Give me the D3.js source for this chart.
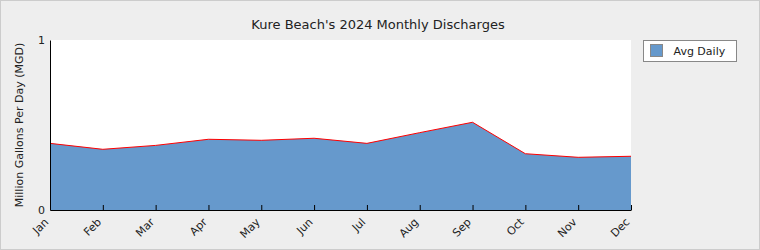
<!DOCTYPE html>
<html>
<head>
<meta charset="utf-8">
<script src="https://cdn.jsdelivr.net/npm/d3@7"></script>
<style>
body { margin: 0; background: #eeeeee; }
svg { display: block; font-family: "DejaVu Sans", sans-serif; }
</style>
</head>
<body>
<script>
// data
var months = ["Jan", "Feb", "Mar", "Apr", "May", "Jun", "Jul", "Aug", "Sep", "Oct", "Nov", "Dec"];
var avgDaily = [0.392, 0.357, 0.380, 0.416, 0.410, 0.422, 0.392, 0.455, 0.516, 0.331, 0.310, 0.316];
var yTicks = [0, 1];

var W = 760, H = 250;
var margin = {top: 40, right: 129, bottom: 40, left: 50};
var width = W - margin.left - margin.right;
var height = H - margin.top - margin.bottom;

var svg = d3.select("body").append("svg")
	.attr("width", W)
	.attr("height", H);

svg.append("rect")
	.attr("x", 0.5).attr("y", 0.5)
	.attr("width", W - 1).attr("height", H - 1)
	.attr("fill", "#eeeeee")
	.attr("stroke", "#cccccc");

svg.append("text")
	.attr("x", 378).attr("y", 29)
	.attr("text-anchor", "middle")
	.attr("font-size", "13px")
	.attr("fill", "#222")
	.text("Kure Beach's 2024 Monthly Discharges");

var g = svg.append("g")
	.attr("transform", "translate(" + margin.left + "," + margin.top + ")");

// scales
var xScale = d3.scalePoint().domain(months).range([0, width]);
var yScale = d3.scaleLinear().domain([0, 1]).range([height, 0]);

g.append("rect")
	.attr("width", width).attr("height", height)
	.attr("fill", "#ffffff");

var area = d3.area()
	.x(function(d, i) { return xScale(months[i]); })
	.y0(height)
	.y1(function(d) { return yScale(d); });

var line = d3.line()
	.x(function(d, i) { return xScale(months[i]); })
	.y(function(d) { return yScale(d); });

g.append("path")
	.datum(avgDaily)
	.attr("d", area)
	.attr("fill", "#6699cc");

g.append("path")
	.datum(avgDaily)
	.attr("d", line)
	.attr("fill", "none")
	.attr("stroke", "#ff0000")
	.attr("stroke-width", 1);

// axes
var xAxis = d3.axisBottom(xScale).tickSizeInner(-5).tickSizeOuter(0);
var xAxisGroup = g.append("g")
	.attr("transform", "translate(0," + height + ")")
	.call(xAxis);
xAxisGroup.select(".domain").attr("stroke", "#000");
xAxisGroup.selectAll(".tick line").attr("stroke", "#000");
xAxisGroup.selectAll("text")
	.attr("font-size", "11px")
	.attr("font-family", "DejaVu Sans, sans-serif")
	.attr("fill", "#222")
	.attr("text-anchor", "end")
	.attr("x", 0)
	.attr("y", 0)
	.attr("dy", "0.35em")
	.attr("transform", "translate(-4,10) rotate(-45)");

var yAxis = d3.axisLeft(yScale).tickValues(yTicks).tickFormat(d3.format("d")).tickSizeInner(0).tickSizeOuter(0).tickPadding(5);
var yAxisGroup = g.append("g").call(yAxis);
yAxisGroup.select(".domain").attr("stroke", "#000");
yAxisGroup.selectAll("text")
	.attr("font-size", "11px")
	.attr("font-family", "DejaVu Sans, sans-serif")
	.attr("fill", "#222");

svg.append("text")
	.attr("transform", "translate(23," + (margin.top + height / 2) + ") rotate(-90)")
	.attr("text-anchor", "middle")
	.attr("font-size", "11px")
	.attr("fill", "#222")
	.text("Million Gallons Per Day (MGD)");

// legend
var legend = svg.append("g").attr("transform", "translate(643.5,40.5)");
legend.append("rect")
	.attr("width", 93).attr("height", 21)
	.attr("fill", "#ffffff")
	.attr("stroke", "#888888");
legend.append("rect")
	.attr("x", 7).attr("y", 4)
	.attr("width", 12).attr("height", 12)
	.attr("fill", "#6699cc")
	.attr("stroke", "#888888");
legend.append("text")
	.attr("x", 30).attr("y", 14.5)
	.attr("font-size", "11px")
	.attr("fill", "#222")
	.text("Avg Daily");
</script>
</body>
</html>
